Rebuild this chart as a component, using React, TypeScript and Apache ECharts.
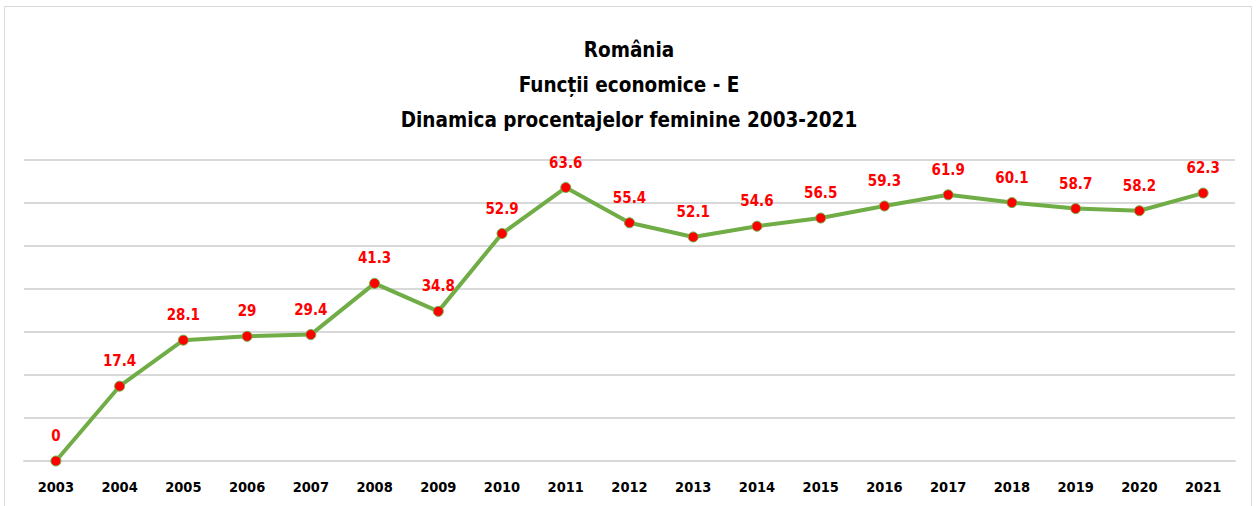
import React, { useEffect, useRef } from "react";
import * as echarts from "echarts";

const years = ["2003","2004","2005","2006","2007","2008","2009","2010","2011","2012","2013","2014","2015","2016","2017","2018","2019","2020","2021"];
const values = [0, 17.4, 28.1, 29, 29.4, 41.3, 34.8, 52.9, 63.6, 55.4, 52.1, 54.6, 56.5, 59.3, 61.9, 60.1, 58.7, 58.2, 62.3];
const titleLines = ["România", "Funcții economice - E", "Dinamica procentajelor feminine 2003-2021"];

export default function App() {
  const ref = useRef<HTMLDivElement>(null);
  useEffect(() => {
    document.body.style.margin = "0";
    const chart = echarts.init(ref.current!, null, { renderer: "svg" });
    const font = "'DejaVu Sans Condensed', 'Noto Sans', sans-serif";
    chart.setOption({
      animation: false,
      backgroundColor: "#ffffff",
      title: {
        text: titleLines.join("\n"),
        left: "center",
        top: 27,
        textStyle: { fontFamily: font, fontWeight: "bold", fontSize: 20.5, lineHeight: 35, color: "#000000" },
      },
      graphic: [
        { type: "rect", shape: { x: 4.5, y: 6.5, width: 1247, height: 510 }, style: { fill: "none", stroke: "#d9d9d9", lineWidth: 1 } },
      ],
      grid: { left: 24, right: 23, top: 160, bottom: 45 },
      xAxis: {
        type: "category",
        data: years,
        boundaryGap: true,
        axisLine: { show: true, lineStyle: { color: "#d9d9d9", width: 2 } },
        axisTick: { show: false },
        axisLabel: { fontFamily: font, fontWeight: "bold", fontSize: 14.5, color: "#000", margin: 18 },
      },
      yAxis: {
        type: "value",
        min: 0,
        max: 70,
        interval: 10,
        axisLabel: { show: false },
        axisLine: { show: false },
        axisTick: { show: false },
        splitLine: { lineStyle: { color: "#d9d9d9", width: 2 } },
      },
      series: [
        {
          type: "line",
          data: values,
          symbol: "circle",
          symbolSize: 10,
          lineStyle: { color: "#70ad47", width: 4 },
          itemStyle: { color: "#ff0000", borderColor: "#70ad47", borderWidth: 1 },
          label: {
            show: true,
            position: "top",
            distance: 12,
            fontFamily: font,
            fontWeight: "bold",
            fontSize: 15,
            color: "#ff0000",
          },
        },
      ],
    });
    return () => chart.dispose();
  }, []);
  return <div ref={ref} style={{ width: 1258, height: 506 }} />;
}
